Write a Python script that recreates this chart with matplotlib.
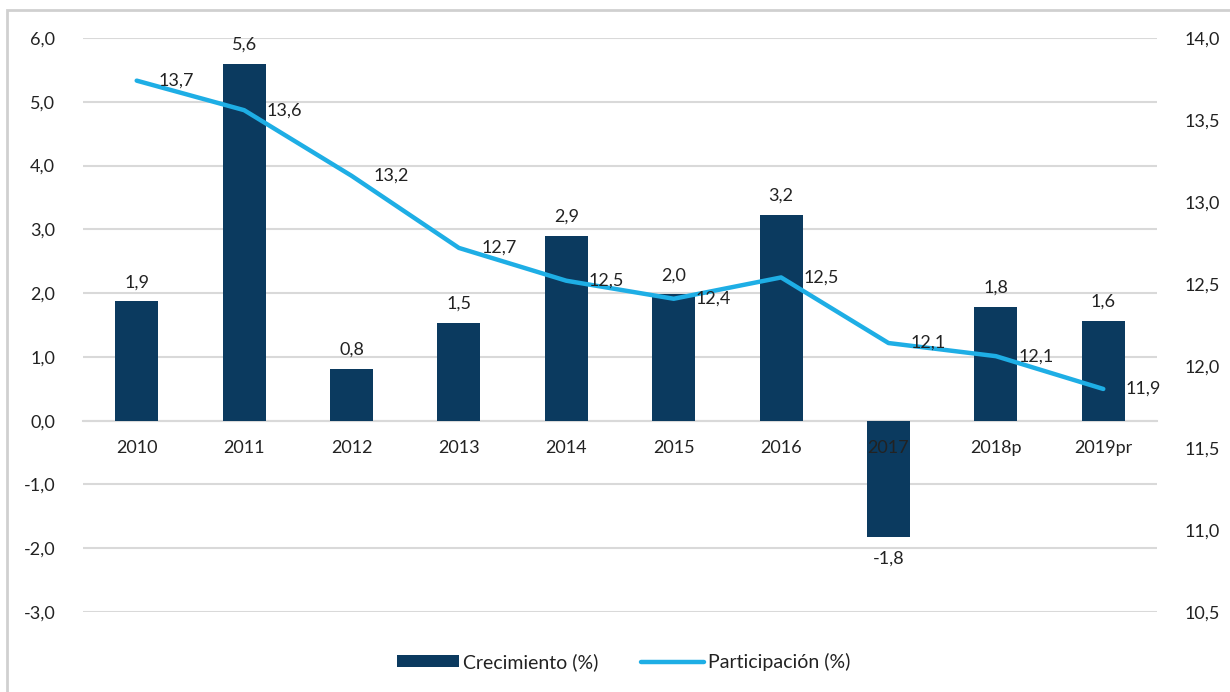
import matplotlib
matplotlib.use("Agg")
import matplotlib.pyplot as plt
from matplotlib.ticker import FuncFormatter, MultipleLocator
from matplotlib.patches import Rectangle
import numpy as np

plt.rcParams["font.family"] = ["Lato", "DejaVu Sans"]

years = ["2010", "2011", "2012", "2013", "2014", "2015", "2016", "2017", "2018p", "2019pr"]
crecimiento = [1.87, 5.59, 0.81, 1.53, 2.90, 1.98, 3.23, -1.82, 1.78, 1.57]
participacion = [13.74, 13.56, 13.16, 12.72, 12.52, 12.41, 12.54, 12.14, 12.06, 11.86]

bar_color = "#0b3a5f"
line_color = "#1eaee5"
grid_color = "#d9d9d9"
text_color = "#222222"

def coma(v, pos=None):
    return f"{v:.1f}".replace(".", ",")

fig = plt.figure(figsize=(12.3, 6.92), dpi=100)
# outer chart border (cropped on the right and bottom)
fig.patches.append(Rectangle((7 / 1230, -0.05), 1.1, 1 - 10 / 692 + 0.05,
                             transform=fig.transFigure, fill=False,
                             edgecolor="#d0d0d0", linewidth=2))

ax = fig.add_axes([83 / 1230, 1 - 612 / 692, (1157 - 83) / 1230, (612 - 38) / 692])
x = np.arange(len(years))

bars = ax.bar(x, crecimiento, width=0.4, color=bar_color, zorder=2,
              label="Crecimiento (%)")
ax.set_ylim(-3, 6)
ax.set_xlim(-0.5, len(years) - 0.5)
ax.yaxis.set_major_locator(MultipleLocator(1))
ax.yaxis.set_major_formatter(FuncFormatter(coma))
ax.grid(axis="y", color=grid_color, linewidth=1.5, zorder=0)
ax.set_axisbelow(True)
ax.xaxis.set_zorder(5)  # year labels sit on top of the 2017 bar
for s in ["top", "right", "left"]:
    ax.spines[s].set_visible(False)
ax.spines["bottom"].set_position(("data", 0))
ax.spines["bottom"].set_color(grid_color)
ax.spines["bottom"].set_linewidth(1.5)
ax.spines["bottom"].set_zorder(1)
ax.set_xticks(x)
ax.set_xticklabels(years)
ax.tick_params(axis="both", length=0, labelsize=13, colors=text_color)
ax.tick_params(axis="x", pad=14)
ax.tick_params(axis="y", pad=20)

for xi, v in zip(x, crecimiento):
    if v >= 0:
        ax.annotate(coma(v), (xi, v), xytext=(0, 8), textcoords="offset points",
                    ha="center", va="bottom", fontsize=13, color=text_color)
    else:
        ax.annotate(coma(v), (xi, v), xytext=(0, -10), textcoords="offset points",
                    ha="center", va="top", fontsize=13, color=text_color)

ax2 = ax.twinx()
ax2.plot(x, participacion, color=line_color, linewidth=3.2,
         solid_capstyle="round", label="Participación (%)", zorder=3)
ax2.set_ylim(10.5, 14.0)
ax2.yaxis.set_major_locator(MultipleLocator(0.5))
ax2.yaxis.set_major_formatter(FuncFormatter(coma))
for s in ["top", "right", "left", "bottom"]:
    ax2.spines[s].set_visible(False)
ax2.tick_params(axis="y", length=0, labelsize=13, colors=text_color, pad=20)

for xi, v in zip(x, participacion):
    ax2.annotate(coma(v), (xi, v), xytext=(16, 0), textcoords="offset points",
                 ha="left", va="center", fontsize=13, color=text_color)

h1, l1 = ax.get_legend_handles_labels()
h2, l2 = ax2.get_legend_handles_labels()
fig.legend(h1 + h2, l1 + l2, loc="center", bbox_to_anchor=(0.507, 1 - 662 / 692),
           ncol=2, frameon=False, fontsize=14, handlelength=3.2, handleheight=0.55,
           columnspacing=2.2, handletextpad=0.2, labelcolor=text_color)

fig.savefig("out.png", dpi=100)
